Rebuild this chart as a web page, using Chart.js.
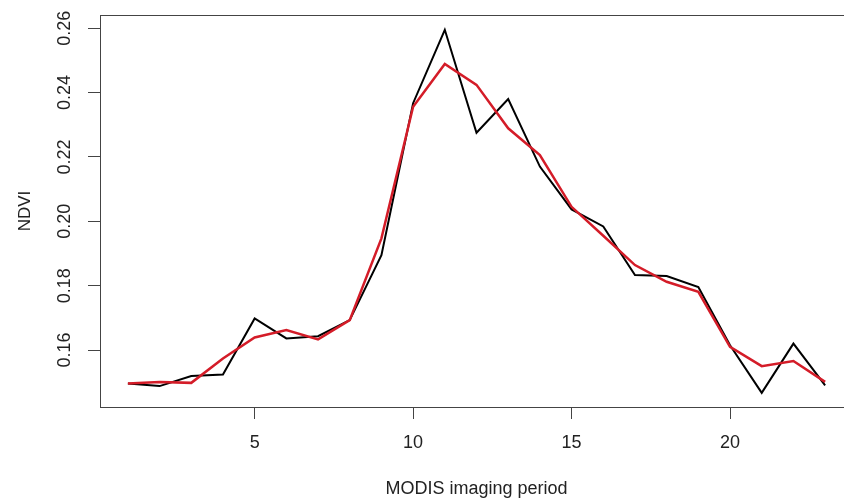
<!DOCTYPE html>
<html>
<head>
<meta charset="utf-8">
<script src="https://cdn.jsdelivr.net/npm/chart.js@4"></script>
<style>
	html, body { margin: 0; padding: 0; background: #fff; overflow: hidden; }
	#wrap { position: relative; width: 870px; height: 500px; }
</style>
</head>
<body>
<div id="wrap"><canvas id="ndviChart"></canvas></div>
<script>
// MODIS imaging periods
const period = [1, 2, 3, 4, 5, 6, 7, 8, 9, 10, 11, 12, 13, 14, 15, 16, 17, 18, 19, 20, 21, 22, 23];

// raw NDVI (black)
const ndviRaw = [0.1496, 0.1488, 0.1519, 0.1524, 0.1698, 0.1636, 0.1643, 0.1693, 0.1895, 0.2367, 0.2595, 0.2275,
	0.2380, 0.2170, 0.2037, 0.1984, 0.1833, 0.1830, 0.1796, 0.1615, 0.1467, 0.1620, 0.1490];

// smoothed NDVI (red)
const ndviSmooth = [0.1496, 0.1501, 0.1498, 0.1574, 0.1639, 0.1662, 0.1633, 0.1693, 0.1947, 0.2356, 0.2489, 0.2424,
	0.2289, 0.2206, 0.2045, 0.1955, 0.1864, 0.1812, 0.1781, 0.1610, 0.1550, 0.1566, 0.1501];

const xTicks = [5, 10, 15, 20];
const yTicks = [0.16, 0.18, 0.20, 0.22, 0.24, 0.26];

const FONT = "'Liberation Sans', Arial, sans-serif";
const TEXT = "#222";
const BOX = "#444";

const toPoints = (ys) => period.map((x, i) => ({ x: x, y: ys[i] }));

const ctx = document.getElementById("ndviChart").getContext("2d");

new Chart(ctx, {
	type: "line",
	data: {
		datasets: [
			{
				data: toPoints(ndviSmooth),
				borderColor: "rgb(212, 28, 40)",
				borderWidth: 2.5,
				pointRadius: 0,
				tension: 0,
				order: 0,
			},
			{
				data: toPoints(ndviRaw),
				borderColor: "#000",
				borderWidth: 2,
				pointRadius: 0,
				tension: 0,
				order: 1,
			},
		],
	},
	options: {
		responsive: true,
		maintainAspectRatio: false,
		animation: false,
		layout: { padding: { left: 0, top: 15, right: 17, bottom: 0 } },
		plugins: {
			legend: { display: false },
			tooltip: { enabled: false },
		},
		scales: {
			x: {
				type: "linear",
				position: "bottom",
				min: 0.12,
				max: 23.88,
				afterBuildTicks: (scale) => {
					scale.ticks = xTicks.map((v) => ({ value: v }));
				},
				afterFit: (scale) => {
					scale.height = 93;
					scale.paddingLeft = 0;
					scale.paddingRight = 0;
				},
				grid: { drawOnChartArea: false, tickLength: 12, color: BOX, lineWidth: 1 },
				border: { display: true, color: BOX, width: 1 },
				ticks: {
					padding: 13,
					color: TEXT,
					font: { family: FONT, size: 18 },
					maxRotation: 0,
					autoSkip: false,
				},
				title: {
					display: true,
					text: "MODIS imaging period",
					color: TEXT,
					font: { family: FONT, size: 18 },
					padding: { top: 0, bottom: 0 },
				},
			},
			xTop: {
				type: "linear",
				position: "top",
				min: 0.12,
				max: 23.88,
				afterFit: (scale) => {
					scale.height = 0;
				},
				grid: { drawOnChartArea: false, drawTicks: false },
				border: { display: true, color: BOX, width: 1 },
				ticks: { display: false },
			},
			y: {
				type: "linear",
				position: "left",
				min: 0.1423,
				max: 0.2641,
				afterBuildTicks: (scale) => {
					scale.ticks = yTicks.map((v) => ({ value: v }));
				},
				afterFit: (scale) => {
					scale.width = 100;
					scale.paddingTop = 0;
					scale.paddingBottom = 0;
				},
				grid: { drawOnChartArea: false, tickLength: 12, color: BOX, lineWidth: 1 },
				border: { display: true, color: BOX, width: 1 },
				ticks: {
					padding: 5,
					color: TEXT,
					font: { family: FONT, size: 18 },
					minRotation: 90,
					maxRotation: 90,
					crossAlign: "center",
					autoSkip: false,
					callback: (v) => Number(v).toFixed(2),
				},
				title: {
					display: true,
					text: "NDVI",
					color: TEXT,
					font: { family: FONT, size: 17 },
					padding: { top: 15, bottom: 0 },
				},
			},
		},
	},
});
</script>
</body>
</html>
